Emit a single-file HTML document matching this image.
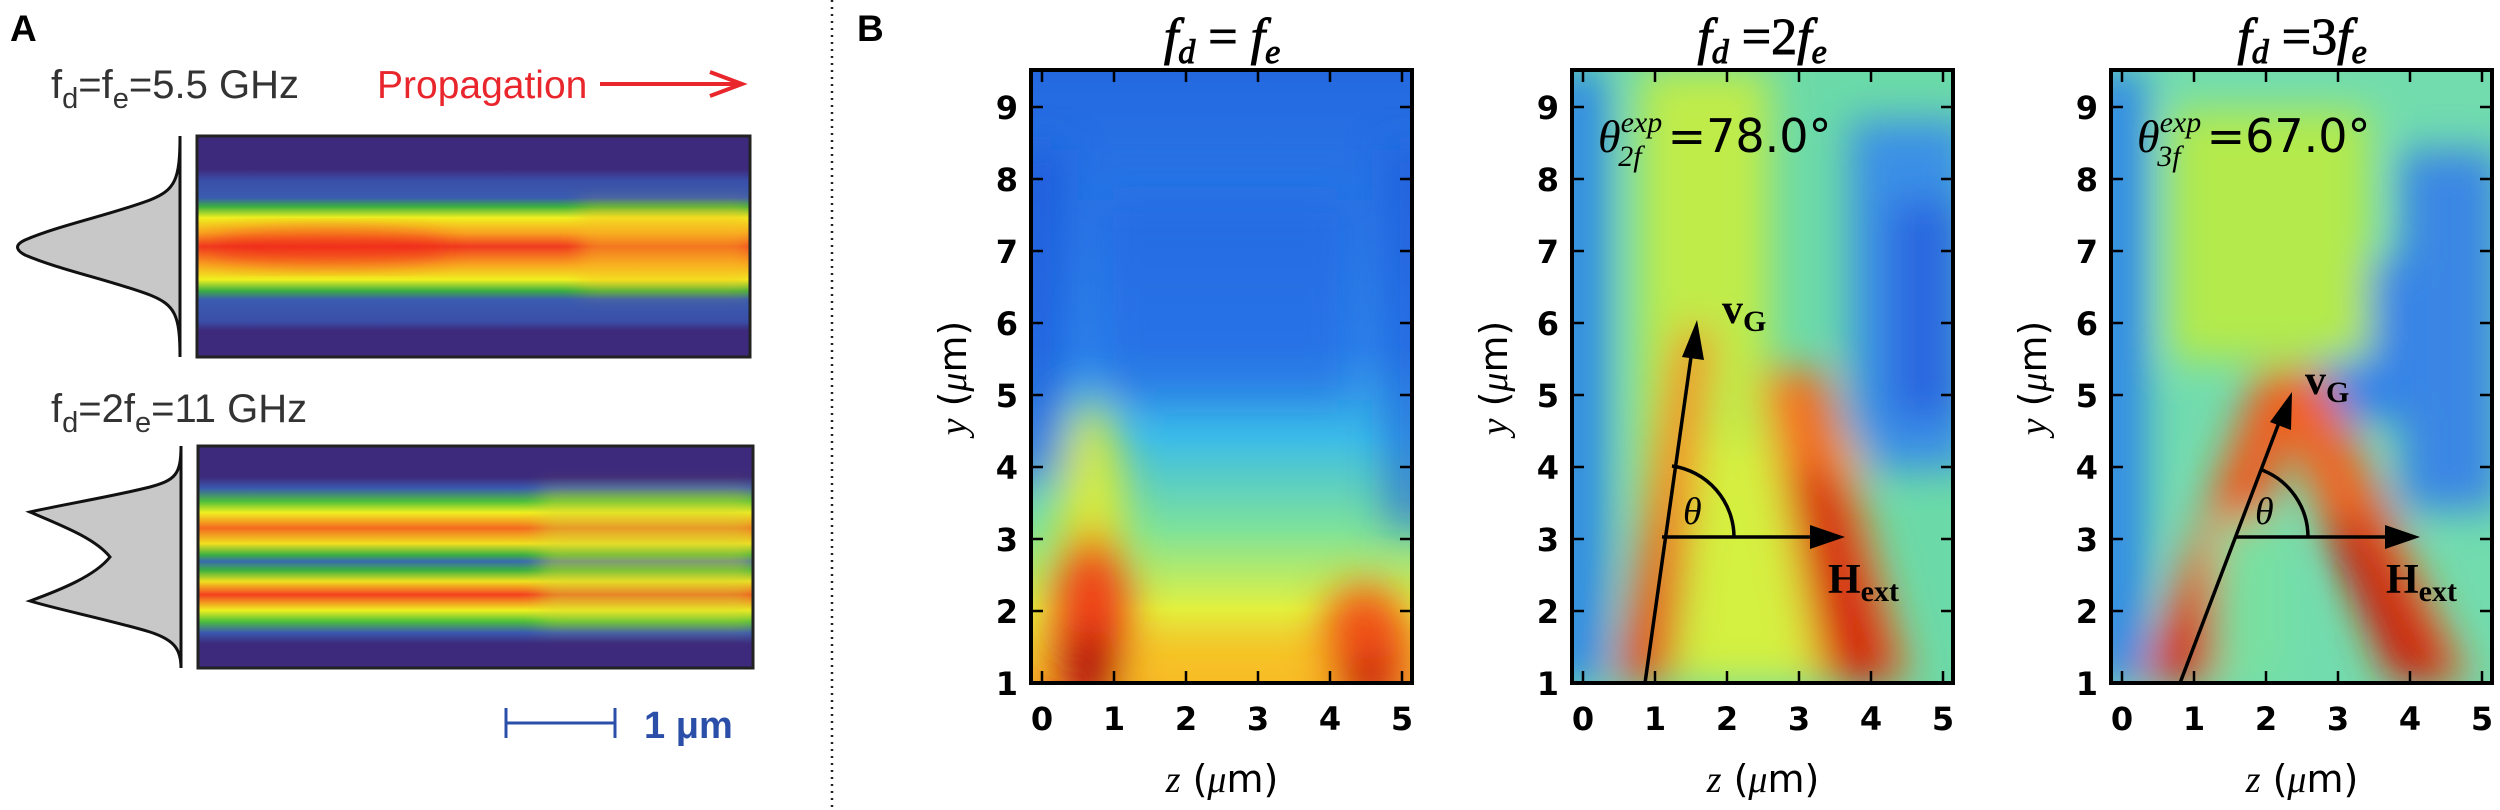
<!DOCTYPE html>
<html><head><meta charset="utf-8"><style>
html,body{margin:0;padding:0;background:#fff;}
svg{display:block;}
.tk{font-family:"DejaVu Sans","Liberation Sans",sans-serif;font-size:32px;font-weight:bold;fill:#000;}
</style></head><body>
<svg width="2500" height="810" viewBox="0 0 2500 810" xmlns="http://www.w3.org/2000/svg">
<defs>
 <filter id="bl" x="-30%" y="-30%" width="160%" height="160%"><feGaussianBlur stdDeviation="20"/></filter>
 <filter id="bls" x="-30%" y="-30%" width="160%" height="160%"><feGaussianBlur stdDeviation="10"/></filter>
 <clipPath id="c1"><rect x="1031" y="70" width="381" height="613"/></clipPath>
 <clipPath id="c2"><rect x="1572" y="70" width="381" height="613"/></clipPath>
 <clipPath id="c3"><rect x="2111" y="70" width="381" height="613"/></clipPath>
 <clipPath id="ca1"><rect x="197" y="136" width="553" height="221"/></clipPath>
 <clipPath id="ca2"><rect x="198" y="446" width="555" height="222"/></clipPath>
 <linearGradient id="g1" x1="0" y1="0" x2="0" y2="1">
  <stop offset="0" stop-color="#2468e0"/><stop offset="0.45" stop-color="#2c86ec"/>
  <stop offset="0.6" stop-color="#3cbce8"/><stop offset="0.75" stop-color="#7ee29a"/>
  <stop offset="0.88" stop-color="#e2f240"/><stop offset="1" stop-color="#f8b028"/>
 </linearGradient>
 <linearGradient id="ga1" x1="0" y1="0" x2="0" y2="1">
  <stop offset="0" stop-color="#3d2a7c"/><stop offset="0.15" stop-color="#3d2a7c"/>
  <stop offset="0.2" stop-color="#3a4ea8"/><stop offset="0.28" stop-color="#3a5cb0"/>
  <stop offset="0.32" stop-color="#3cb040"/><stop offset="0.37" stop-color="#f0f020"/>
  <stop offset="0.44" stop-color="#f8a020"/><stop offset="0.5" stop-color="#f03a20"/>
  <stop offset="0.58" stop-color="#f8a020"/><stop offset="0.65" stop-color="#f0f020"/>
  <stop offset="0.7" stop-color="#3cb040"/><stop offset="0.74" stop-color="#3a5cb0"/>
  <stop offset="0.84" stop-color="#3a4ea8"/><stop offset="0.88" stop-color="#3d2a7c"/><stop offset="1" stop-color="#3d2a7c"/>
 </linearGradient>
 <linearGradient id="ga2" x1="0" y1="0" x2="0" y2="1">
  <stop offset="0" stop-color="#3d2a7c"/><stop offset="0.14" stop-color="#3d2a7c"/>
  <stop offset="0.19" stop-color="#3a5ab0"/><stop offset="0.25" stop-color="#4ec03a"/>
  <stop offset="0.3" stop-color="#f0f020"/><stop offset="0.37" stop-color="#f46a20"/>
  <stop offset="0.44" stop-color="#f0e020"/><stop offset="0.49" stop-color="#3cb040"/>
  <stop offset="0.52" stop-color="#3a6ab0"/><stop offset="0.56" stop-color="#3cb040"/>
  <stop offset="0.61" stop-color="#f0e020"/><stop offset="0.67" stop-color="#f44020"/>
  <stop offset="0.74" stop-color="#f0f020"/><stop offset="0.79" stop-color="#4ec03a"/>
  <stop offset="0.84" stop-color="#3a5ab0"/><stop offset="0.89" stop-color="#3d2a7c"/>
  <stop offset="1" stop-color="#3d2a7c"/>
 </linearGradient>
</defs>

<!-- Panel A -->
<text x="10" y="41" font-family="Liberation Sans,sans-serif" font-weight="bold" font-size="37">A</text>
<text x="51" y="98" font-family="Liberation Sans,sans-serif" font-size="40" fill="#333">f<tspan font-size="29" dy="10">d</tspan><tspan dy="-10">=f</tspan><tspan font-size="29" dy="10">e</tspan><tspan dy="-10">=5.5 GHz</tspan></text>
<text x="377" y="98" font-family="Liberation Sans,sans-serif" font-size="39" fill="#e8262c">Propagation</text>
<line x1="600" y1="84" x2="742" y2="84" stroke="#e8262c" stroke-width="4"/>
<polyline points="710,72 742,84 710,96" fill="none" stroke="#e8262c" stroke-width="4"/>

<path d="M180,136 C180,180 175,190 150,200 C110,215 60,225 25,240 Q10,247 25,255 C60,270 110,280 150,295 C175,305 180,315 180,357 Z" fill="#c8c8c8" stroke="#111" stroke-width="3"/>
<g clip-path="url(#ca1)">
 <rect x="197" y="136" width="553" height="221" fill="url(#ga1)"/>
 <rect x="580" y="205" width="170" height="85" fill="#f8c020" opacity="0.45" filter="url(#bls)"/>
 <ellipse cx="330" cy="247" rx="120" ry="18" fill="#f02018" opacity="0.5" filter="url(#bls)"/>
</g>
<rect x="197" y="136" width="553" height="221" fill="none" stroke="#222" stroke-width="3"/>

<text x="51" y="422" font-family="Liberation Sans,sans-serif" font-size="40" fill="#333">f<tspan font-size="29" dy="10">d</tspan><tspan dy="-10">=2f</tspan><tspan font-size="29" dy="10">e</tspan><tspan dy="-10">=11 GHz</tspan></text>
<path d="M181,446 C181,475 175,480 150,487 C110,497 60,505 30,512 C60,525 95,538 110,557 C95,576 60,590 30,601 C60,610 110,620 150,632 C175,640 181,650 181,668 Z" fill="#c8c8c8" stroke="#111" stroke-width="3"/>
<g clip-path="url(#ca2)">
 <rect x="198" y="446" width="555" height="222" fill="url(#ga2)"/>
 <rect x="540" y="490" width="213" height="135" fill="#d8d830" opacity="0.45" filter="url(#bls)"/>
</g>
<rect x="198" y="446" width="555" height="222" fill="none" stroke="#222" stroke-width="3"/>

<line x1="505" y1="723" x2="615" y2="723" stroke="#2b4fa8" stroke-width="3"/>
<line x1="506" y1="708" x2="506" y2="738" stroke="#2b4fa8" stroke-width="3"/>
<line x1="615" y1="708" x2="615" y2="738" stroke="#2b4fa8" stroke-width="3"/>
<text x="644" y="738" font-family="Liberation Sans,sans-serif" font-weight="bold" font-size="38" fill="#2b4fa8">1 μm</text>

<line x1="832" y1="0" x2="832" y2="810" stroke="#222" stroke-width="2.5" stroke-dasharray="2,5"/>
<text x="857" y="41" font-family="Liberation Sans,sans-serif" font-weight="bold" font-size="37">B</text>

<!-- Plot 1 -->
<g clip-path="url(#c1)">
 <rect x="1031" y="70" width="381" height="613" fill="url(#g1)"/>
 <g filter="url(#bl)">
  <rect x="1010" y="150" width="55" height="330" fill="#1a55d8" opacity="0.7"/>
  <rect x="1385" y="150" width="50" height="380" fill="#1a55d8" opacity="0.6"/>
  <rect x="1100" y="200" width="250" height="200" fill="#2060e0" opacity="0.5"/>
  <ellipse cx="1092" cy="510" rx="34" ry="110" fill="#f0f020" opacity="0.8"/>
  <ellipse cx="1092" cy="620" rx="38" ry="90" fill="#f04018"/>
  <ellipse cx="1090" cy="670" rx="30" ry="40" fill="#b01010"/>
  <ellipse cx="1365" cy="645" rx="45" ry="60" fill="#f05018"/>
  <ellipse cx="1368" cy="680" rx="28" ry="25" fill="#c01010"/>
  <rect x="1130" y="640" width="200" height="60" fill="#f8c020" opacity="0.8"/>
 </g>
</g>

<!-- Plot 2 -->
<g clip-path="url(#c2)">
 <rect x="1572" y="70" width="381" height="613" fill="#6cdaa8"/>
 <g filter="url(#bl)">
  <rect x="1550" y="70" width="55" height="613" fill="#2f86e8"/>
  <rect x="1850" y="120" width="120" height="350" fill="#3a90e6"/>
  <rect x="1890" y="200" width="70" height="220" fill="#2a66e0"/>
  <rect x="1640" y="70" width="130" height="613" fill="#c0ec48"/>
  <rect x="1690" y="440" width="170" height="243" fill="#d4f040"/>
  <polygon points="1615,683 1670,683 1712,330 1680,330" fill="#f47a20"/>
  <polygon points="1625,683 1665,683 1690,470" fill="#e02818"/>
  <polygon points="1760,370 1825,370 1910,683 1820,683" fill="#f37020"/>
  <polygon points="1790,470 1830,470 1895,683 1835,683" fill="#d01a10"/>
 </g>
</g>

<!-- Plot 3 -->
<g clip-path="url(#c3)">
 <rect x="2111" y="70" width="381" height="613" fill="#72dcae"/>
 <g filter="url(#bl)">
  <rect x="2090" y="70" width="55" height="613" fill="#2f86e8"/>
  <rect x="2400" y="150" width="100" height="360" fill="#3a86e4"/>
  <rect x="2320" y="260" width="90" height="160" fill="#3282e8"/>
  <rect x="2170" y="110" width="200" height="250" fill="#b4ea4c"/>
  <polygon points="2140,683 2215,683 2310,370 2260,370" fill="#f05a1a"/>
  <polygon points="2155,683 2205,683 2255,480" fill="#c81810"/>
  <polygon points="2260,370 2320,370 2470,683 2390,683" fill="#f06420"/>
  <polygon points="2320,520 2365,520 2455,683 2395,683" fill="#c81810"/>
  <rect x="2215" y="520" width="70" height="163" fill="#78e0a0"/>
 </g>
</g>

<g fill="none" stroke="#000">
 <rect x="1031" y="70" width="381" height="613" stroke-width="4"/>
 <rect x="1572" y="70" width="381" height="613" stroke-width="4"/>
 <rect x="2111" y="70" width="381" height="613" stroke-width="4"/>
</g>
<g stroke="#000" stroke-width="2.5">
 <path id="tks" d="M1042,683v-12M1114,683v-12M1186,683v-12M1258,683v-12M1330,683v-12M1402,683v-12
 M1042,70v12M1114,70v12M1186,70v12M1258,70v12M1330,70v12M1402,70v12
 M1031,107h12M1031,179h12M1031,251h12M1031,323h12M1031,395h12M1031,467h12M1031,539h12M1031,611h12
 M1412,107h-12M1412,179h-12M1412,251h-12M1412,323h-12M1412,395h-12M1412,467h-12M1412,539h-12M1412,611h-12"/>
 <use href="#tks" transform="translate(541,0)"/>
 <use href="#tks" transform="translate(1080,0)"/>
</g>

<g id="lab1">
 <g class="tk" text-anchor="end">
  <text x="1018" y="119">9</text><text x="1018" y="191">8</text><text x="1018" y="263">7</text><text x="1018" y="335">6</text>
  <text x="1018" y="407">5</text><text x="1018" y="479">4</text><text x="1018" y="551">3</text><text x="1018" y="623">2</text><text x="1018" y="695">1</text>
 </g>
 <g class="tk" text-anchor="middle">
  <text x="1042" y="730">0</text><text x="1114" y="730">1</text><text x="1186" y="730">2</text><text x="1258" y="730">3</text><text x="1330" y="730">4</text><text x="1402" y="730">5</text>
 </g>
 <text x="1222" y="792" text-anchor="middle" font-size="38" font-family="DejaVu Sans,sans-serif"><tspan font-family="Liberation Serif,serif" font-style="italic">z</tspan> (<tspan font-family="Liberation Serif,serif" font-style="italic">μ</tspan>m)</text>
 <text transform="translate(966,378) rotate(-90)" text-anchor="middle" font-size="38" font-family="DejaVu Sans,sans-serif"><tspan font-family="Liberation Serif,serif" font-style="italic">y</tspan> (<tspan font-family="Liberation Serif,serif" font-style="italic">μ</tspan>m)</text>
</g>
<use href="#lab1" transform="translate(541,0)"/>
<use href="#lab1" transform="translate(1080,0)"/>

<g font-family="Liberation Serif,serif" font-style="italic" font-size="52" text-anchor="middle" stroke="#000" stroke-width="1">
 <text x="1222" y="54">f<tspan font-size="34" dy="9">d</tspan><tspan dy="-9" font-style="normal"> = </tspan>f<tspan font-size="34" dy="9">e</tspan></text>
 <text x="1762" y="54">f<tspan font-size="34" dy="9">d</tspan><tspan dy="-9" font-style="normal"> =2</tspan>f<tspan font-size="34" dy="9">e</tspan></text>
 <text x="2302" y="54">f<tspan font-size="34" dy="9">d</tspan><tspan dy="-9" font-style="normal"> =3</tspan>f<tspan font-size="34" dy="9">e</tspan></text>
</g>

<g font-size="46">
 <text x="1598" y="152"><tspan font-family="Liberation Serif,serif" font-style="italic">θ</tspan><tspan font-family="Liberation Serif,serif" font-style="italic" font-size="30" dy="-20">exp</tspan><tspan font-family="Liberation Serif,serif" font-style="italic" font-size="30" dx="-44" dy="34">2f</tspan><tspan font-family="DejaVu Sans,sans-serif" dx="26" dy="-14">=78.0°</tspan></text>
 <text x="2137" y="152"><tspan font-family="Liberation Serif,serif" font-style="italic">θ</tspan><tspan font-family="Liberation Serif,serif" font-style="italic" font-size="30" dy="-20">exp</tspan><tspan font-family="Liberation Serif,serif" font-style="italic" font-size="30" dx="-44" dy="34">3f</tspan><tspan font-family="DejaVu Sans,sans-serif" dx="26" dy="-14">=67.0°</tspan></text>
</g>
<g stroke="#000" stroke-width="3.5" fill="none">
 <line x1="1645" y1="683" x2="1692" y2="350"/>
 <line x1="1662" y1="537" x2="1815" y2="537"/>
 <path d="M1734,537 A72,72 0 0 0 1672,466"/>
 <line x1="2180" y1="683" x2="2280" y2="420"/>
 <line x1="2236" y1="537" x2="2390" y2="537"/>
 <path d="M2308,537 A72,72 0 0 0 2262,470"/>
</g>
<g fill="#000">
 <polygon points="1697,320 1682,357 1704,360"/>
 <polygon points="1845,537 1810,525 1810,549"/>
 <polygon points="2292,392 2270,422 2291,430"/>
 <polygon points="2420,537 2385,525 2385,549"/>
</g>
<g font-family="Liberation Serif,serif" font-weight="bold" font-size="42">
 <text x="1722" y="323">v<tspan font-size="30" dy="8">G</tspan></text>
 <text x="1828" y="593">H<tspan font-size="30" dy="8">ext</tspan></text>
 <text x="2305" y="394">v<tspan font-size="30" dy="8">G</tspan></text>
 <text x="2386" y="593">H<tspan font-size="30" dy="8">ext</tspan></text>
</g>
<g font-family="Liberation Serif,serif" font-style="italic" font-size="38">
 <text x="1683" y="524">θ</text>
 <text x="2255" y="524">θ</text>
</g>
</svg>
</body></html>
